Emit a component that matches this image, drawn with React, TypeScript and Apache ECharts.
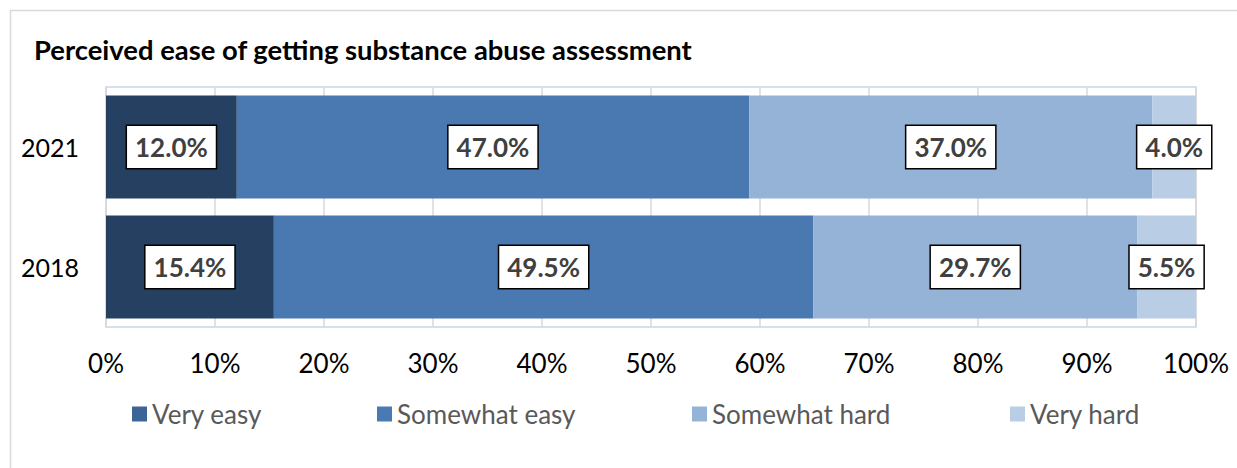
import React, { useEffect, useRef } from "react";
import * as echarts from "echarts";

const title = "Perceived ease of getting substance abuse assessment";
const years = ["2021", "2018"];
const seriesNames = ["Very easy", "Somewhat easy", "Somewhat hard", "Very hard"];
const veryEasy = [12.0, 15.4];
const somewhatEasy = [47.0, 49.5];
const somewhatHard = [37.0, 29.7];
const veryHard = [4.0, 5.5];
const xTicks = [0, 10, 20, 30, 40, 50, 60, 70, 80, 90, 100];

const barColors = ["#264061", "#4a78b0", "#95b3d7", "#b9cde5"];
const legendColors = ["#3c6496", "#4a7ab3", "#95b3d7", "#b9cde5"];
const legendLefts = [127, 372, 687, 1005];

const FONT = "Lato";

export default function App() {
  const ref = useRef<HTMLDivElement>(null);
  useEffect(() => {
    if (!ref.current) return;
    const chart = echarts.init(ref.current, null, { renderer: "svg" });
    const values = [veryEasy, somewhatEasy, somewhatHard, veryHard];
    const option: any = {
      animation: false,
      backgroundColor: "#ffffff",
      textStyle: { fontFamily: FONT },
      title: {
        text: title,
        left: 29,
        top: 31,
        textStyle: { fontFamily: FONT, fontWeight: "bold", fontSize: 27.4, color: "#000000" },
      },
      graphic: [
        {
          type: "rect",
          shape: { x: 10.5, y: 10.5, width: 1260, height: 500 },
          style: { fill: "none", stroke: "#d9d9d9", lineWidth: 1.5 },
          silent: true,
        },
      ],
      legend: seriesNames.map((n, i) => ({
        data: [{ name: n, itemStyle: { color: legendColors[i] } }],
        left: legendLefts[i],
        top: 396,
        itemWidth: 15,
        itemHeight: 15,
        icon: "rect",
        itemGap: 6,
        textStyle: { fontFamily: FONT, fontSize: 26, color: "#595959" },
      })),
      grid: {
        left: 106,
        right: 41,
        top: 87,
        height: 240,
        show: true,
        borderColor: "#c9d6e8",
        borderWidth: 1.5,
        containLabel: false,
      },
      xAxis: {
        type: "value",
        min: 0,
        max: 100,
        interval: 10,
        axisLine: { show: false },
        axisTick: { show: false },
        splitLine: { show: true, lineStyle: { color: "#d9d9d9", width: 1.5 } },
        axisLabel: {
          margin: 23,
          fontFamily: FONT,
          fontSize: 26,
          color: "#000000",
          formatter: (v: number) => (xTicks.includes(v) ? v + "%" : ""),
        },
      },
      yAxis: {
        type: "category",
        inverse: true,
        data: years,
        axisLine: { show: false },
        axisTick: { show: false },
        axisLabel: { margin: 27, fontFamily: FONT, fontSize: 25, color: "#000000" },
      },
      series: seriesNames.map((n, i) => ({
        name: n,
        type: "bar",
        stack: "total",
        barCategoryGap: "14%",
        data: values[i],
        itemStyle: { color: barColors[i] },
        label: {
          show: true,
          position: "inside",
          formatter: (p: any) => Number(p.value).toFixed(1) + "%",
          fontFamily: FONT,
          fontWeight: "bold",
          fontSize: 26,
          lineHeight: 26,
          color: "#404040",
          backgroundColor: "#ffffff",
          borderColor: "#000000",
          borderWidth: 1.5,
          padding: [9, 8, 7, 8],
        },
      })),
    };
    chart.setOption(option);
    return () => chart.dispose();
  }, []);
  return (
    <div
      ref={ref}
      style={{ position: "absolute", left: 0, top: 0, width: 1237, height: 468 }}
    />
  );
}
